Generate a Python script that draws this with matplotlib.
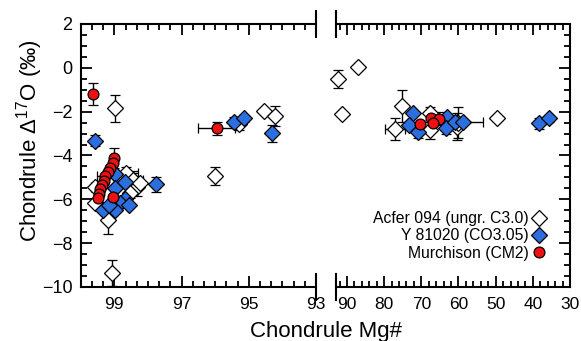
import numpy as np
import matplotlib
matplotlib.use('Agg')
import matplotlib.pyplot as plt
from matplotlib.lines import Line2D
from matplotlib.ticker import MultipleLocator

plt.rcParams['font.family'] = ['Liberation Sans', 'DejaVu Sans']
plt.rcParams['mathtext.fontset'] = 'custom'
plt.rcParams['mathtext.rm'] = 'Liberation Sans'
plt.rcParams['mathtext.default'] = 'rm'

# Acfer 094 (open diamonds)
acfer_mg = [98.98, 99.08, 99.18, 95.99, 94.54, 94.22, 95.28, 98.64, 98.44, 98.34, 98.54, 99.58, 99.58, 98.24,
            92.34, 86.96, 91.42, 75.28, 77.08, 67.66, 67.66, 60.48, 49.72, 60.05]
acfer_d17 = [-1.85, -9.35, -6.94, -4.93, -1.96, -2.20, -2.55, -4.81, -5.12, -5.42, -5.73, -5.42, -6.18, -5.27,
             -0.52, 0.05, -2.12, -1.74, -2.81, -2.07, -2.85, -2.68, -2.27, -2.50]
acfer_xerr = [0, 0, 0, 0, 0, 0, 0, 0.35, 0.3, 0, 0, 0.1, 0, 0,
              0, 0, 0, 0, 2.6, 0, 0, 0, 0, 0]
acfer_yerr = [0.6, 0.6, 0.65, 0.4, 0, 0.45, 0.3, 0.3, 0.4, 0.45, 0.2, 0, 0, 0,
              0.4, 0, 0, 0.75, 0.5, 0.3, 0.4, 0.6, 0, 0.7]

# Y 81020 (blue diamonds)
y81_mg = [99.58, 97.77, 95.43, 95.13, 94.32, 98.98, 98.98, 98.69, 98.69, 98.84, 98.98, 99.35, 99.15, 98.55,
          72.32, 73.23, 70.81, 63.17, 63.36, 60.94, 58.71, 38.26, 35.57]
y81_d17 = [-3.32, -5.31, -2.46, -2.30, -2.99, -4.85, -5.50, -5.22, -6.00, -6.15, -6.50, -6.50, -6.25, -6.25,
           -2.07, -2.61, -2.91, -2.23, -2.73, -2.46, -2.46, -2.53, -2.30]
y81_xerr = [0, 0, 0, 0, 0, 0, 0, 0, 0, 0, 0, 0, 0, 0,
            0, 0, 0, 0, 0, 0, 5.3, 0, 0]
y81_yerr = [0.25, 0.35, 0.2, 0.15, 0.4, 0, 0, 0, 0, 0, 0, 0, 0, 0,
            0, 0, 0.3, 0, 0.3, 0, 0, 0.25, 0.15]

# Murchison (red circles)
mur_mg = [99.63, 95.95, 99.00, 99.05, 99.12, 99.20, 99.27, 99.32, 99.38, 99.42, 99.47, 99.50, 99.03,
          70.36, 67.40, 65.16, 66.78]
mur_d17 = [-1.21, -2.76, -4.10, -4.35, -4.55, -4.75, -4.95, -5.15, -5.35, -5.55, -5.75, -5.95, -5.91,
           -2.58, -2.27, -2.33, -2.50]
mur_xerr = [0, 0.55, 0, 0, 0, 0, 0.25, 0, 0, 0, 0, 0, 0,
            0, 0, 0, 0]
mur_yerr = [0.5, 0.3, 0.45, 0, 0, 0, 0, 0, 0, 0, 0, 0, 0,
            0, 0, 0.3, 0]

series = [
    (acfer_mg, acfer_d17, acfer_xerr, acfer_yerr, 'D', 'white', 8, 'Acfer 094 (ungr. C3.0)'),
    (y81_mg, y81_d17, y81_xerr, y81_yerr, 'D', '#2a6ee0', 8, 'Y 81020 (CO3.05)'),
    (mur_mg, mur_d17, mur_xerr, mur_yerr, 'o', '#ee1111', 7.8, 'Murchison (CM2)'),
]

fig = plt.figure(figsize=(5.81, 3.41), dpi=100)
ax1 = fig.add_axes([0.1389, 0.1584, 0.4050, 0.7713])
ax2 = fig.add_axes([0.5783, 0.1584, 0.4028, 0.7713])

for ax, sel in [(ax1, lambda v: v > 92.97), (ax2, lambda v: v <= 92.97)]:
    for mg, d, xe, ye, mk, fc, ms, lab in series:
        mg = np.array(mg); d = np.array(d); xe = np.array(xe); ye = np.array(ye)
        m = sel(mg)
        ax.errorbar(mg[m], d[m], xerr=xe[m], yerr=ye[m], fmt=mk, mfc=fc, mec='k', mew=0.9, ms=ms,
                    ecolor='k', elinewidth=1.0, capsize=3.5, capthick=1.0, clip_on=False, zorder=3)
    ax.set_ylim(-10, 2)
    ax.yaxis.set_major_locator(MultipleLocator(2))
    ax.yaxis.set_minor_locator(MultipleLocator(0.5))
    ax.tick_params(which='both', direction='in', width=1.3)
    ax.tick_params(axis='y', labelsize=13)
    ax.tick_params(axis='x', labelsize=12.5)
    ax.tick_params(which='major', length=8)
    ax.tick_params(which='minor', length=4)
    ax.tick_params(axis='x', which='both', top=True, pad=7)
    for s in ax.spines.values():
        s.set_linewidth(1.5)

ax1.set_xlim(100, 93)
ax1.set_xticks([99, 97, 95, 93])
ax1.xaxis.set_minor_locator(MultipleLocator(1/3))
ax1.spines['right'].set_visible(False)
ax1.tick_params(axis='y', which='both', right=False, pad=6)

ax2.set_xlim(92.95, 30)
ax2.set_xticks([90, 80, 70, 60, 50, 40, 30])
ax2.xaxis.set_minor_locator(MultipleLocator(2))
ax2.spines['left'].set_visible(False)
ax2.tick_params(axis='y', which='both', left=False, right=True, labelleft=False)

# axis break marks
for ax, xb in [(ax1, 1), (ax2, 0)]:
    for y0, y1 in [(-0.05, 0.05), (0.95, 1.05)]:
        ax.plot([xb, xb], [y0, y1], color='k', lw=1.5, transform=ax.transAxes, clip_on=False)

fig.text(326/581, 1-337/341, 'Chondrule Mg#', ha='center', va='baseline', fontsize=16)
fig.text(30/581, 1-141/341, 'Chondrule \u0394$^{17}$O (\u2030)', ha='center', va='center',
         rotation=90, fontsize=16)

handles = [Line2D([], [], ls='none', marker=mk, mfc=fc, mec='k', mew=0.9, ms=ms, label=lab)
           for _, _, _, _, mk, fc, ms, lab in series]
ax2.legend(handles=handles, loc='lower right', bbox_to_anchor=(0.93, 0.07), markerfirst=False,
           frameon=False, fontsize=11.3, handlelength=0.9, handletextpad=0.2, labelspacing=0.15,
           borderpad=0)

fig.savefig('out.png', dpi=100)
